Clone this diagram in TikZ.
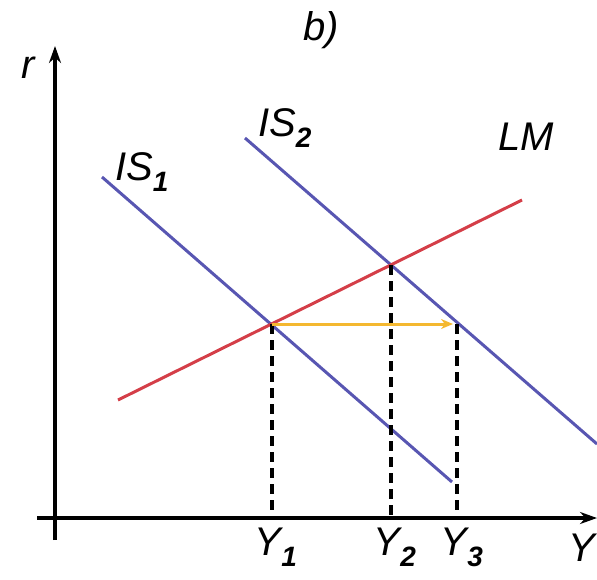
\documentclass[tikz,border=0pt]{standalone}
\usepackage{fontspec}
\setmainfont{Liberation Sans}
\usepackage{tikz}
\usetikzlibrary{arrows.meta,calc}
\definecolor{bleuIS}{RGB}{88,86,178}
\definecolor{rougeLM}{RGB}{212,62,72}
\definecolor{jauneFl}{RGB}{244,184,48}

\begin{document}
\begin{tikzpicture}[x=1pt,y=-1pt,
  lbl/.style={font=\fontsize{40}{44}\selectfont\itshape,inner sep=0pt},
  axe/.style={line width=3.4pt,-{Stealth[length=17pt,width=12pt]}},
  courbeIS/.style={bleuIS,line width=3pt},
  courbeLM/.style={rougeLM,line width=3pt},
  pointille/.style={dashed,dash pattern=on 10pt off 6pt,line width=3.2pt}]

  \useasboundingbox (0,0) rectangle (597,579);

  % Axes
  \coordinate (yb) at (55,540);
  \coordinate (yt) at (55,46);
  \coordinate (xl) at (37,518);
  \coordinate (xr) at (597,518);
  \draw[axe] (yb)--(yt);
  \draw[axe] (xl)--(xr);
  \node[lbl] (r) at (28,68) {r};
  \node[lbl,anchor=west] (Y) at (568,548) {Y};
  \node[lbl] (titre) at (321,30) {b)};

  % Courbes
  \coordinate (is1a) at (102,177);
  \coordinate (is1b) at (452,482);
  \coordinate (is2a) at (245,138);
  \coordinate (is2b) at (597,444);
  \coordinate (lma)  at (118,400);
  \coordinate (lmb)  at (522,200);
  \draw[courbeIS] (is1a)--(is1b);
  \draw[courbeIS] (is2a)--(is2b);
  \draw[courbeLM] (lma)--(lmb);
  \node[lbl] (is1) at (142,172) {IS\textsubscript{\bfseries 1}};
  \node[lbl] (is2) at (285,128) {IS\textsubscript{\bfseries 2}};
  \node[lbl] (lm)  at (526,137) {LM};

  % Equilibres
  \coordinate (e1) at (272,324);
  \coordinate (e2) at (391,265);
  \coordinate (e3) at (457,324);
  \coordinate (y1) at (272,518);
  \coordinate (y2) at (391,518);
  \coordinate (y3) at (457,518);
  \draw[pointille] (e1)--(y1);
  \draw[pointille] (e2)--(y2);
  \draw[pointille] (e3)--(y3);
  \draw[jauneFl,line width=3pt,-{Stealth[length=12pt,width=10pt]}] (e1)--($(e3)+(-4,0)$);

  \node[lbl] (ly1) at (276,547) {Y\textsubscript{\bfseries 1}};
  \node[lbl] (ly2) at (395,547) {Y\textsubscript{\bfseries 2}};
  \node[lbl] (ly3) at (462,547) {Y\textsubscript{\bfseries 3}};
\end{tikzpicture}
\end{document}
